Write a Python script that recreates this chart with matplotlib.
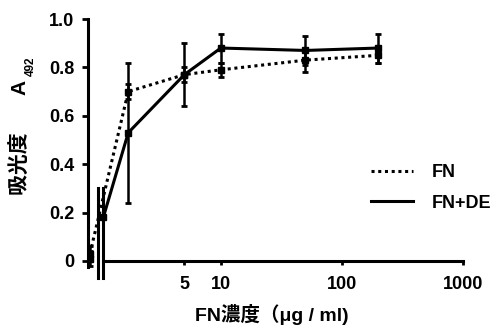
import numpy as np
import matplotlib
matplotlib.use('Agg')
import matplotlib.pyplot as plt
import matplotlib.transforms as mtransforms

plt.rcParams['font.family'] = ['Liberation Sans', 'Noto Sans CJK JP']
plt.rcParams['font.weight'] = 'bold'

# positions (µg/ml, log axis); first point is the 0 control
conc = [0.83, 1.07, 1.72, 5, 10, 50, 200]
fn = [0.03, np.nan, 0.70, 0.77, 0.79, 0.83, 0.85]
fn_err = [0.03, np.nan, 0.03, 0.03, 0.03, 0.05, 0.03]
fnde = [0.01, 0.18, 0.53, 0.77, 0.88, 0.87, 0.88]
fnde_err = [0.03, 0.0, 0.29, 0.13, 0.06, 0.06, 0.06]

xticks = [5, 10, 100, 1000]
yticks = [0, 0.2, 0.4, 0.6, 0.8, 1.0]
ytick_labels = ['0', '0.2', '0.4', '0.6', '0.8', '1.0']

fig = plt.figure(figsize=(5.02, 3.29), dpi=100)
ax = fig.add_axes([88/502, 1-267/329, (463-88)/502, (267-19)/329])
ax.set_xscale('log')
ax.set_xlim(0.80, 1000)
ax.set_ylim(-0.025, 1.0)

x = np.array(conc)
f = np.array(fn)
fe = np.array(fn_err)
d = np.array(fnde)
de = np.array(fnde_err)

# FN (dotted)
m = ~np.isnan(f)
ax.plot(x[m], f[m], color='black', lw=2.2, ls=(0, (1, 1.2)), marker='s', ms=4, zorder=3)
ax.errorbar(x[m], f[m], yerr=fe[m], fmt='none', ecolor='black', elinewidth=1.8,
            capsize=2.5, capthick=2, zorder=3)

# FN+DE (solid), zero point not joined across the break
ax.plot(x[1:], d[1:], color='black', lw=2.2, marker='s', ms=4, zorder=3)
ax.plot(x[:1], d[:1], color='black', marker='s', ms=4, ls='none', zorder=3)
ax.errorbar(x, d, yerr=de, fmt='none', ecolor='black', elinewidth=1.8,
            capsize=2.5, capthick=2, zorder=3)

# axes styling
for s in ['top', 'right']:
    ax.spines[s].set_visible(False)
ax.spines['left'].set_linewidth(2.2)
ax.spines['bottom'].set_linewidth(2.2)
ax.spines['bottom'].set_position(('data', 0))
ax.spines['bottom'].set_bounds(1.07, 1000)

# axis break marks
trans = mtransforms.blended_transform_factory(ax.transData, ax.transData)
for xb in [0.965, 1.07]:
    ax.plot([xb, xb], [-0.07, 0.30], color='black', lw=2.2, transform=trans, clip_on=False)

ax.set_xticks(xticks)
ax.set_xticklabels([str(t) for t in xticks])
ax.xaxis.set_minor_locator(matplotlib.ticker.NullLocator())
ax.set_yticks(yticks)
ax.set_yticklabels(ytick_labels)
ax.tick_params(axis='x', length=3, width=2, pad=8, labelsize=13)
ax.tick_params(axis='y', length=4, width=2, pad=6, labelsize=13)
for lab in ax.get_xticklabels() + ax.get_yticklabels():
    lab.set_fontweight('bold')

ax.set_xlabel('FN濃度（μg / ml)', fontsize=14, fontweight='bold')
ax.xaxis.set_label_coords(0.49, -0.15)

# y label with subscript
ax.text(-0.181, 0.522, '吸光度　   A', rotation=90, ha='center', va='center',
        fontsize=15, fontweight='bold', transform=ax.transAxes)
ax.text(-0.152, 0.81, '492', rotation=90, ha='center', va='center',
        fontsize=8.5, fontweight='bold', transform=ax.transAxes)

# legend
leg_lines = [ax.plot([], [], color='black', lw=2.2, ls=(0, (1, 1.2)))[0],
             ax.plot([], [], color='black', lw=2.2)[0]]
leg = ax.legend(leg_lines, ['FN', 'FN+DE'], loc='center left', bbox_to_anchor=(0.755, 0.319),
                frameon=False, handlelength=2.3, handletextpad=1.05, labelspacing=0.75,
                borderpad=0, borderaxespad=0, prop={'weight': 'bold', 'size': 13})

fig.savefig('out.png', dpi=100)
